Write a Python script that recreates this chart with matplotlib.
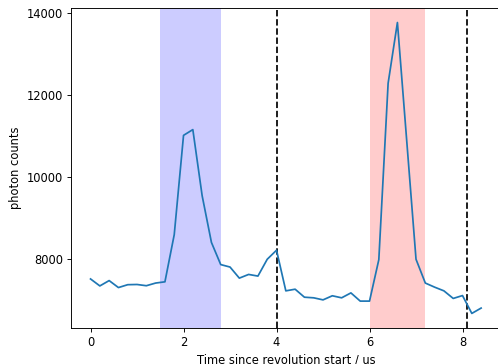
import numpy as np
import matplotlib
matplotlib.use("Agg")
import matplotlib.pyplot as plt
from matplotlib.ticker import MultipleLocator

# time axis (us) and photon counts
time_us = np.round(np.arange(0, 8.41, 0.2), 1)
counts = [7510, 7340, 7470, 7300, 7370, 7375, 7345, 7410, 7440, 8590,
          11010, 11150, 9540, 8400, 7860, 7800, 7530, 7620, 7580, 7990,
          8210, 7220, 7260, 7065, 7050, 7000, 7100, 7050, 7170, 6970,
          6970, 7980, 12280, 13760, 10880, 7990, 7410, 7310, 7220, 7035,
          7105, 6670, 6800]

blue_window = (1.5, 2.8)
red_window = (6.0, 7.2)
revolution_marks = [4.0, 8.1]

# smaller dpi so text and lines come out at the reference scale
fig = plt.figure(figsize=(6.0, 4.386), dpi=83)
# right spine sits just past the picture edge, as in the reference
ax = fig.add_axes([0.1426, 0.099, 0.8627, 0.879])

ax.axvspan(*blue_window, color='blue', alpha=0.2, lw=0)
ax.axvspan(*red_window, color='red', alpha=0.2, lw=0)
for xm in revolution_marks:
    ax.axvline(xm, color='black', ls='--')
ax.plot(time_us, counts)

ax.yaxis.set_major_locator(MultipleLocator(2000))
ax.set_xlabel("Time since revolution start / us")
ax.set_ylabel("photon counts")

fig.savefig("out.png", dpi=83)
